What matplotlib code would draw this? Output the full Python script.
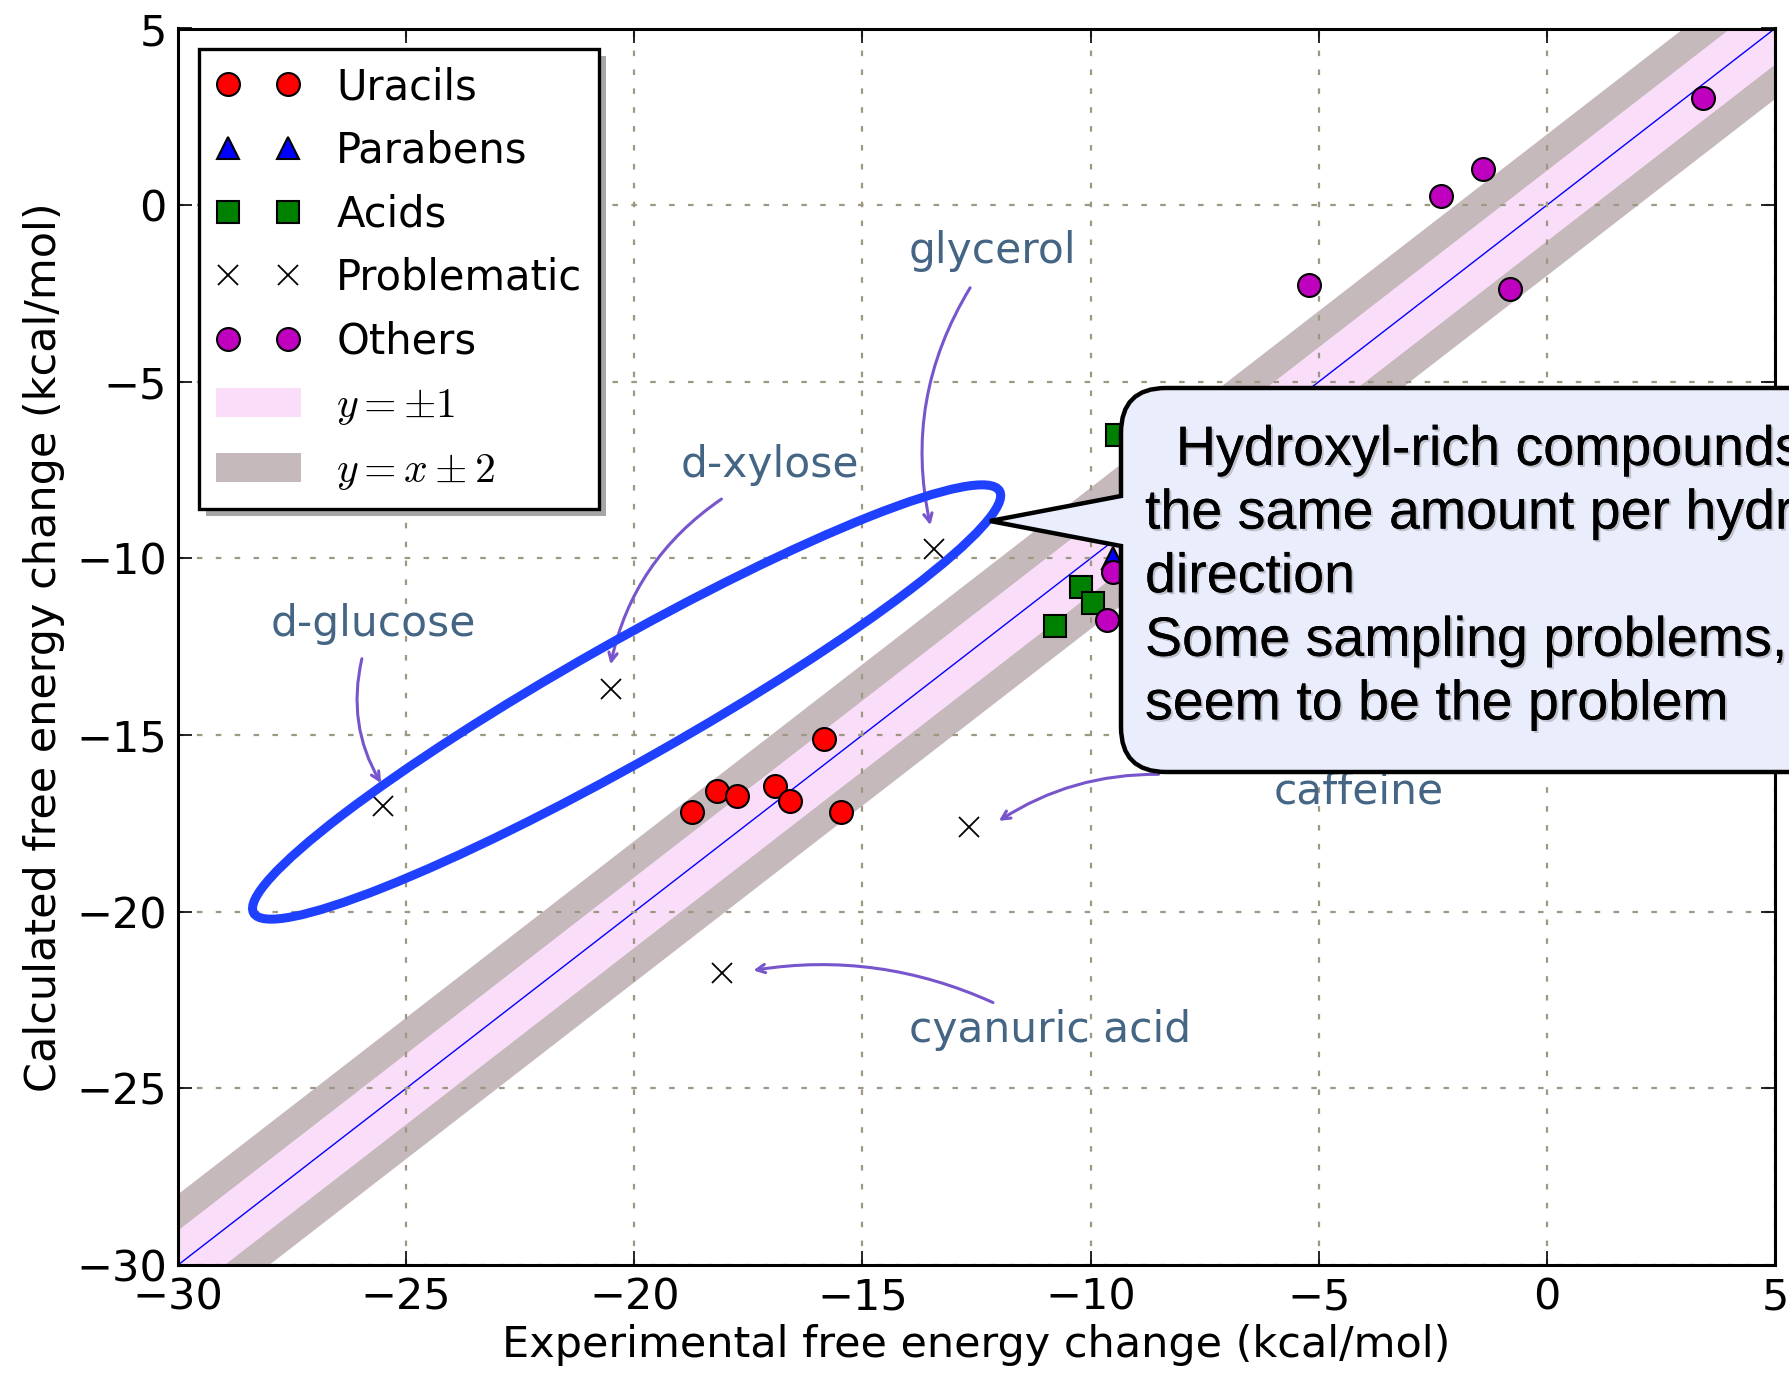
"""
Calculated vs experimental free energy, with callout
"""

# Imports
import numpy as np
import matplotlib
matplotlib.use("Agg")
import matplotlib.pyplot as plt
import matplotlib.patheffects as pe
from matplotlib.patches import Ellipse, PathPatch, Rectangle
from matplotlib.path import Path
from matplotlib.transforms import IdentityTransform

plt.rcParams['font.family'] = 'DejaVu Sans'
plt.rcParams['mathtext.fontset'] = 'cm'

# Data (kcal/mol)
uracils_x = [-18.74, -18.19, -17.74, -16.92, -16.59, -15.84, -15.46]
uracils_y = [-17.17, -16.59, -16.72, -16.43, -16.88, -15.10, -17.17]
parabens_x = [-9.51]
parabens_y = [-10.0]
acids_x = [-9.43, -10.21, -9.94, -10.79]
acids_y = [-6.51, -10.80, -11.26, -11.90]
problem_names = ["d-glucose", "d-xylose", "glycerol", "caffeine", "cyanuric acid"]
problem_x = [-25.50, -20.52, -13.44, -12.66, -18.07]
problem_y = [-17.01, -13.71, -9.74, -17.59, -21.73]
others_x = [-9.51, -9.63, -5.21, -2.33, -1.40, -0.80, 3.43]
others_y = [-10.38, -11.74, -2.27, 0.25, 1.02, -2.37, 3.03]

ticks = [-30, -25, -20, -15, -10, -5, 0, 5]

callout_lines = [
    "  Hydroxyl-rich compounds are off by",
    "the same amount per hydroxyl, in the same",
    "direction",
    "Some sampling problems, but those don't",
    "seem to be the problem",
]

# Annotation layout: text centre, arrow start, arrow end, arc rad
label_pos = {
    "d-glucose": ((-25.72, -11.87), (-25.97, -12.84), (-25.55, -16.36), 0.2),
    "d-xylose": ((-17.02, -7.35), (-18.09, -8.32), (-20.52, -13.0), 0.2),
    "glycerol": ((-12.14, -1.30), (-12.64, -2.34), (-13.51, -9.06), 0.2),
    "caffeine": ((-4.13, -16.59), (-8.51, -16.11), (-12.01, -17.43), 0.15),
    "cyanuric acid": ((-10.89, -23.35), (-12.14, -22.57), (-17.39, -21.66), 0.15),
}

W, H = 1790, 1373
fig = plt.figure(figsize=(W / 100, H / 100), dpi=100)
ax = fig.add_axes([178 / W, 1 - 1265 / H, (1775 - 178) / W, (1265 - 28.5) / H])

# Bands around y = x
xx = np.array([-30.0, 5.0])
ax.fill_between(xx, xx - 2, xx + 2, color='#c6b9bc', lw=0, zorder=1, label=r'$y = x \pm 2$')
ax.fill_between(xx, xx - 1, xx + 1, color='#f9ddf9', lw=0, zorder=1.1, label=r'$y = \pm 1$')
ax.plot(xx, xx, color='b', lw=1, zorder=1.2)

mk = dict(ls='none', mec='k', mew=1.5, ms=16.5, zorder=3)
ax.plot(uracils_x, uracils_y, marker='o', mfc='r', label='Uracils', **mk)
ax.plot(parabens_x, parabens_y, marker='^', mfc='b', label='Parabens', **mk)
ax.plot(acids_x, acids_y, marker='s', mfc='g', label='Acids', **mk)
ax.plot(problem_x, problem_y, marker='x', ls='none', color='k', mew=1.3, ms=14,
        zorder=3, label='Problematic')
ax.plot(others_x, others_y, marker='o', mfc='#bf00bf', label='Others', **mk)

ax.set_xlim(-30, 5)
ax.set_ylim(-30, 5)
ax.set_xticks(ticks)
ax.set_yticks(ticks)
ax.tick_params(direction='in', length=10, width=1.2, labelsize=31, pad=8,
               top=True, right=True)
for s in ax.spines.values():
    s.set_linewidth(2.2)
ax.grid(True, color='#9d9882', linestyle=(0, (2.5, 6)), lw=1.6)
ax.set_xlabel('Experimental free energy change (kcal/mol)', fontsize=31, labelpad=4)
ax.set_ylabel('Calculated free energy change (kcal/mol)', fontsize=31, labelpad=8)

# Legend order as in reference
h, l = ax.get_legend_handles_labels()
order = ['Uracils', 'Parabens', 'Acids', 'Problematic', 'Others',
         r'$y = \pm 1$', r'$y = x \pm 2$']
hd = dict(zip(l, h))
leg = ax.legend([hd[k] for k in order], order, loc='upper left', numpoints=2,
                fontsize=30, fancybox=False, framealpha=1, edgecolor='k',
                labelspacing=0.52, handlelength=2.05, handletextpad=0.85,
                borderpad=0.4, borderaxespad=0.5)
leg.get_frame().set_linewidth(2.4)
leg.set_zorder(6)

# Problematic compound labels
for name in problem_names:
    tpos, a0, a1, rad = label_pos[name]
    ax.text(tpos[0], tpos[1], name, fontsize=30.5, color='#456585',
            ha='center', va='center', zorder=4)
    ax.annotate('', xy=a1, xytext=a0,
                arrowprops=dict(arrowstyle='->,head_length=0.6,head_width=0.3',
                                color='#7755cc', lw=2.2, shrinkA=0, shrinkB=0,
                                connectionstyle='arc3,rad=%s' % rad),
                zorder=4)

# Blue ellipse round the hydroxyl-rich compounds (pixel coords)
ell = Ellipse((626.6, H - 702), 857, 118, angle=29.5, transform=IdentityTransform(),
              fill=False, ec='#2040ff', lw=6.5, zorder=2)
fig.add_artist(ell)

# Speech-bubble callout (pixel coords, clipped by the figure edge)
left, right, top, bot, r = 1121, 1900, H - 388, H - 772, 45
tip = (990, H - 521)
b_up, b_lo = H - 496, H - 546
verts = [tip, (left, b_up), (left, top - r), (left, top), (left + r, top),
         (right, top), (right, bot), (left + r, bot), (left, bot), (left, bot + r),
         (left, b_lo), tip]
codes = [Path.MOVETO, Path.LINETO, Path.LINETO, Path.CURVE3, Path.CURVE3,
         Path.LINETO, Path.LINETO, Path.LINETO, Path.CURVE3, Path.CURVE3,
         Path.LINETO, Path.CLOSEPOLY]
bubble = PathPatch(Path(verts, codes), transform=IdentityTransform(),
                   fc='#eaeefc', ec='k', lw=3.2, joinstyle='miter', zorder=5)
fig.add_artist(bubble)

shadow = [pe.withSimplePatchShadow(offset=(1.5, -1.5), shadow_rgbFace='#555555', alpha=0.3),
          pe.Normal()]
for i, line in enumerate(callout_lines):
    fig.text(1145 / W, (H - 465 - i * 63.6) / H, line, fontsize=40,
             family='Liberation Sans', color='k', ha='left', va='baseline',
             zorder=6, path_effects=shadow)

# Legend drop shadow
fig.canvas.draw()
bb = leg.get_window_extent()
ax.add_artist(Rectangle((bb.x0 + 7, bb.y0 - 7), bb.width, bb.height,
                        transform=IdentityTransform(), fc='#a6a6a6', ec='none',
                        zorder=5.5))

fig.savefig('out.png', dpi=100)
